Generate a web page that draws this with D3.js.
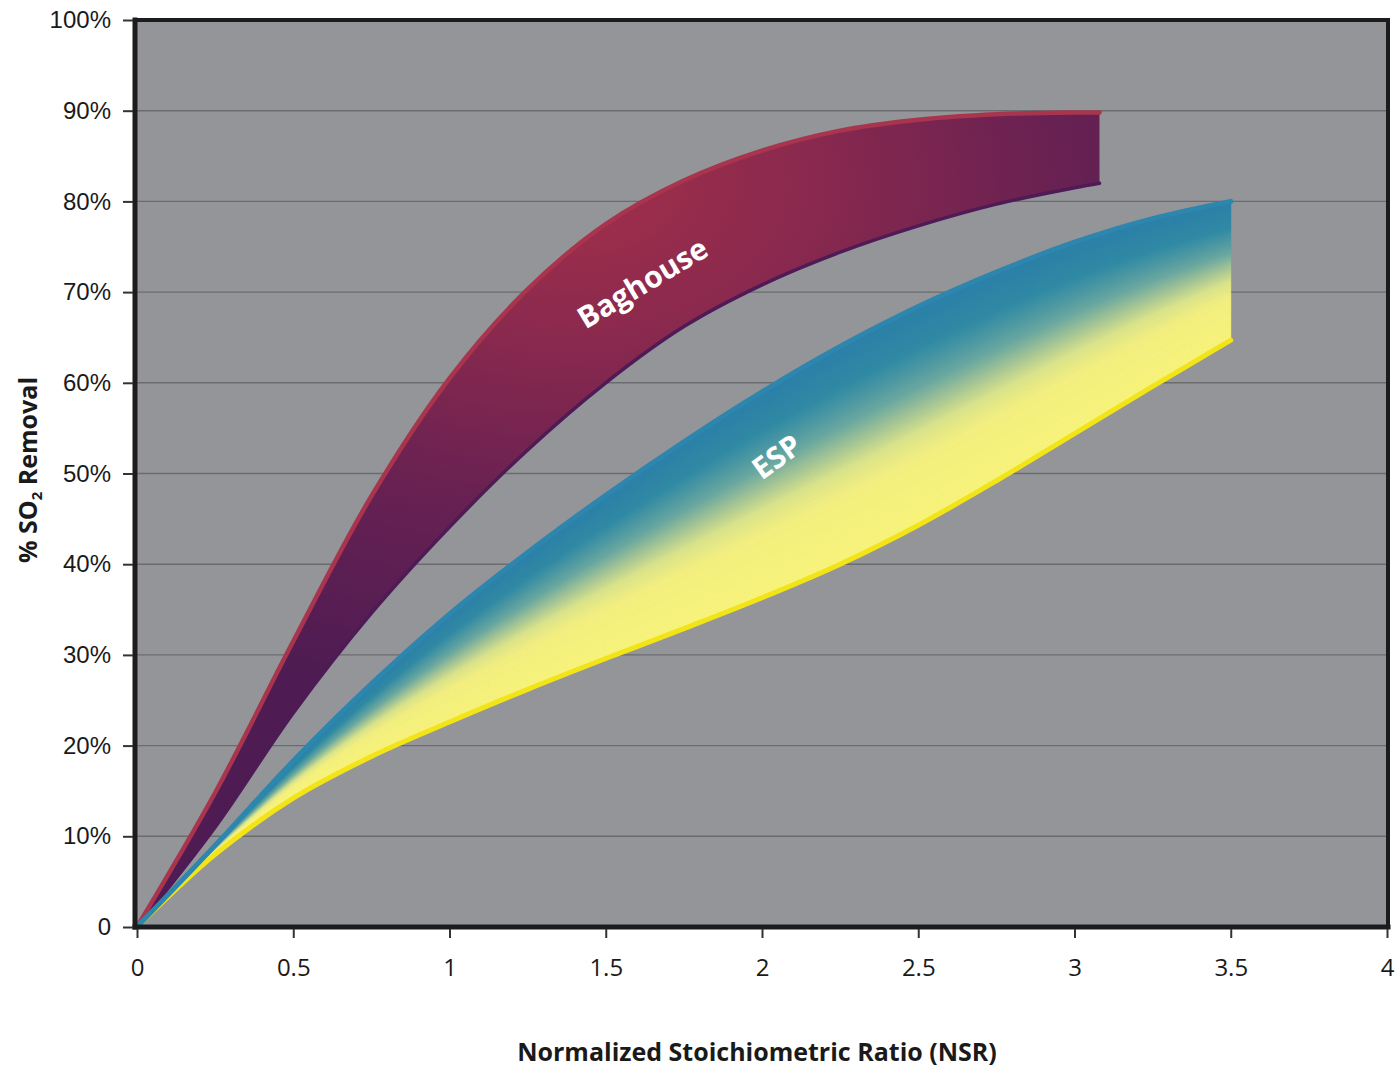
<!DOCTYPE html>
<html>
<head>
<meta charset="utf-8">
<script src="https://cdn.jsdelivr.net/npm/d3@7"></script>
<style>
  body { margin: 0; background: #fff; }
  svg { display: block; }
</style>
</head>
<body>
<div id="chart"></div>
<script>
const nsrBag = [0, 0.25, 0.5, 0.75, 1, 1.25, 1.5, 1.75, 2, 2.25, 2.5, 2.75, 3, 3.08]
const bagUpper = [0, 14.8, 31.5, 47.5, 60.5, 70.3, 77.5, 82.3, 85.6, 87.8, 89, 89.6, 89.8, 89.8]
const bagLower = [0, 11, 23.6, 34.6, 44.1, 52.6, 60, 66.2, 70.8, 74.4, 77.3, 79.7, 81.5, 82]

const nsrEsp = [0, 0.25, 0.5, 0.75, 1, 1.25, 1.5, 1.75, 2, 2.25, 2.5, 2.75, 3, 3.25, 3.5]
const espUpper = [0, 9, 18.3, 26.8, 34.5, 41.3, 47.6, 53.5, 59, 64, 68.4, 72.2, 75.5, 78.1, 80]
const espLower = [0, 8, 14.2, 18.8, 22.6, 26.2, 29.6, 32.9, 36.3, 40, 44.3, 49.2, 54.4, 59.6, 64.7]

const yTicks = [0, 10, 20, 30, 40, 50, 60, 70, 80, 90, 100]
const xTicks = [0, 0.5, 1, 1.5, 2, 2.5, 3, 3.5, 4]

const width = 1396
const height = 1067
const plotLeft = 135, plotRight = 1388, plotTop = 20, plotBottom = 927

const svg = d3.select('#chart').append('svg')
	.attr('width', width)
	.attr('height', height)

const x = d3.scaleLinear().domain([0, 4]).range([137, 1387])
const y = d3.scaleLinear().domain([0, 100]).range([plotBottom, plotTop])

const defs = svg.append('defs')

defs.append('clipPath').attr('id', 'plotClip')
	.append('rect')
	.attr('x', plotLeft).attr('y', plotTop)
	.attr('width', plotRight - plotLeft).attr('height', plotBottom - plotTop)

// baghouse: red in the middle of the band, purple toward the ends
const cx = x(1.4), cy = y(82)
const bagGrad = defs.append('radialGradient')
	.attr('id', 'bagGrad')
	.attr('gradientUnits', 'userSpaceOnUse')
	.attr('cx', cx).attr('cy', cy).attr('r', 520)
	.attr('gradientTransform', `translate(${cx},${cy}) scale(1.5,1) translate(${-cx},${-cy})`)
bagGrad.append('stop').attr('offset', 0).attr('stop-color', '#a22f4a')
bagGrad.append('stop').attr('offset', 0.3).attr('stop-color', '#8a294e')
bagGrad.append('stop').attr('offset', 0.62).attr('stop-color', '#682152')
bagGrad.append('stop').attr('offset', 1).attr('stop-color', '#4e1c52')

// plot background
svg.append('rect')
	.attr('x', plotLeft).attr('y', plotTop)
	.attr('width', plotRight - plotLeft).attr('height', plotBottom - plotTop)
	.attr('fill', '#939598')

// gridlines
svg.append('g').selectAll('line')
	.data(yTicks.filter(d => d > 0 && d < 100))
	.enter()
	.append('line')
	.attr('x1', plotLeft).attr('x2', plotRight)
	.attr('y1', d => y(d)).attr('y2', d => y(d))
	.attr('stroke', '#6b6c6e')
	.attr('stroke-width', 1.4)

const plot = svg.append('g').attr('clip-path', 'url(#plotClip)')

const curve = d3.curveCatmullRom.alpha(0.5)

// baghouse band
const bagData = nsrBag.map((n, i) => ({ n, hi: bagUpper[i], lo: bagLower[i] }))
plot.append('path')
	.datum(bagData)
	.attr('d', d3.area().curve(curve).x(d => x(d.n)).y0(d => y(d.lo)).y1(d => y(d.hi)))
	.attr('fill', 'url(#bagGrad)')

// ESP band: strips between the edges, blue at the top edge to yellow at the bottom
const espData = nsrEsp.map((n, i) => ({ n, hi: espUpper[i], lo: espLower[i] }))
const espColor = d3.scaleLinear()
	.domain([0, 0.19, 0.37, 0.48, 0.58, 0.7, 1])
	.range(['#2a7fa8', '#2e89a4', '#68a7a0', '#a6c695', '#dbe48a', '#f4f07f', '#f8f47a'])
	.interpolate(d3.interpolateRgb)
const strips = 80
const lerp = (d, t) => d.hi + (d.lo - d.hi) * t
plot.append('g').selectAll('path')
	.data(d3.range(strips))
	.enter()
	.append('path')
	.attr('d', i => d3.area().curve(curve)
		.x(d => x(d.n))
		.y0(d => y(lerp(d, i / strips)))
		.y1(d => y(lerp(d, (i + 1) / strips)))(espData))
	.attr('fill', i => espColor((i + 0.5) / strips))
	.attr('stroke', i => espColor((i + 0.5) / strips))
	.attr('stroke-width', 0.8)

// band edges
const edge = (n, v) => d3.line().curve(curve).x((d, i) => x(n[i])).y(d => y(d))(v)
plot.append('path').attr('d', edge(nsrBag, bagLower))
	.attr('fill', 'none').attr('stroke', '#4e1b57').attr('stroke-width', 3.5).attr('stroke-linecap', 'round')
plot.append('path').attr('d', edge(nsrBag, bagUpper))
	.attr('fill', 'none').attr('stroke', '#a8344e').attr('stroke-width', 4.5).attr('stroke-linecap', 'round')
plot.append('path').attr('d', edge(nsrEsp, espLower))
	.attr('fill', 'none').attr('stroke', '#f2e417').attr('stroke-width', 5).attr('stroke-linecap', 'round')
plot.append('path').attr('d', edge(nsrEsp, espUpper))
	.attr('fill', 'none').attr('stroke', '#2c86ae').attr('stroke-width', 5).attr('stroke-linecap', 'round')

// band labels
svg.append('text')
	.attr('transform', `translate(${x(1.635)},${y(70)}) rotate(-31)`)
	.attr('text-anchor', 'middle')
	.attr('font-family', 'Open Sans, sans-serif')
	.attr('font-weight', 'bold')
	.attr('font-size', 30)
	.attr('fill', '#fff')
	.text('Baghouse')
svg.append('text')
	.attr('transform', `translate(${x(2.067)},${y(50.9)}) rotate(-36)`)
	.attr('text-anchor', 'middle')
	.attr('font-family', 'Open Sans, sans-serif')
	.attr('font-weight', 'bold')
	.attr('font-size', 30)
	.attr('fill', '#fff')
	.text('ESP')

// frame
const frame = svg.append('g').attr('stroke', '#1c1c1e').attr('stroke-linecap', 'square')
frame.append('line').attr('x1', plotLeft).attr('x2', plotRight).attr('y1', plotTop).attr('y2', plotTop).attr('stroke-width', 4)
frame.append('line').attr('x1', plotRight).attr('x2', plotRight).attr('y1', plotTop).attr('y2', plotBottom).attr('stroke-width', 4)
frame.append('line').attr('x1', plotLeft).attr('x2', plotLeft).attr('y1', plotTop).attr('y2', plotBottom).attr('stroke-width', 5)
frame.append('line').attr('x1', plotLeft).attr('x2', plotRight).attr('y1', plotBottom).attr('y2', plotBottom).attr('stroke-width', 5)

// axes
const yAxis = svg.append('g')
	.attr('transform', `translate(${plotLeft - 2},0)`)
	.call(d3.axisLeft(y).tickValues(yTicks).tickSize(10).tickPadding(12)
		.tickFormat(d => d === 0 ? '0' : d + '%'))
yAxis.select('.domain').remove()
yAxis.selectAll('.tick line').attr('stroke', '#333').attr('stroke-width', 2)
yAxis.selectAll('.tick text')
	.attr('font-family', 'Liberation Sans, Arial, sans-serif')
	.attr('font-size', 24)
	.attr('fill', '#1a1a1a')

const xAxis = svg.append('g')
	.attr('transform', `translate(0,${plotBottom + 2})`)
	.call(d3.axisBottom(x).tickValues(xTicks).tickSize(9).tickPadding(21)
		.tickFormat(d => String(d)))
xAxis.select('.domain').remove()
xAxis.selectAll('.tick line').attr('stroke', '#333').attr('stroke-width', 2)
xAxis.selectAll('.tick text')
	.attr('font-family', 'Open Sans, sans-serif')
	.attr('font-size', 24)
	.attr('fill', '#1a1a1a')

// axis titles
svg.append('text')
	.attr('x', 757).attr('y', 1061)
	.attr('text-anchor', 'middle')
	.attr('font-family', 'Open Sans, sans-serif')
	.attr('font-weight', 'bold')
	.attr('font-size', 25)
	.attr('fill', '#1a1a1a')
	.text('Normalized Stoichiometric Ratio (NSR)')

const yTitle = svg.append('text')
	.attr('transform', 'translate(37,470) rotate(-90)')
	.attr('text-anchor', 'middle')
	.attr('font-family', 'Open Sans, sans-serif')
	.attr('font-weight', 'bold')
	.attr('font-size', 25)
	.attr('fill', '#1a1a1a')
yTitle.append('tspan').text('% SO')
yTitle.append('tspan').attr('font-size', 15).attr('dy', 5).text('2')
yTitle.append('tspan').attr('dy', -5).text(' Removal')
</script>
</body>
</html>
